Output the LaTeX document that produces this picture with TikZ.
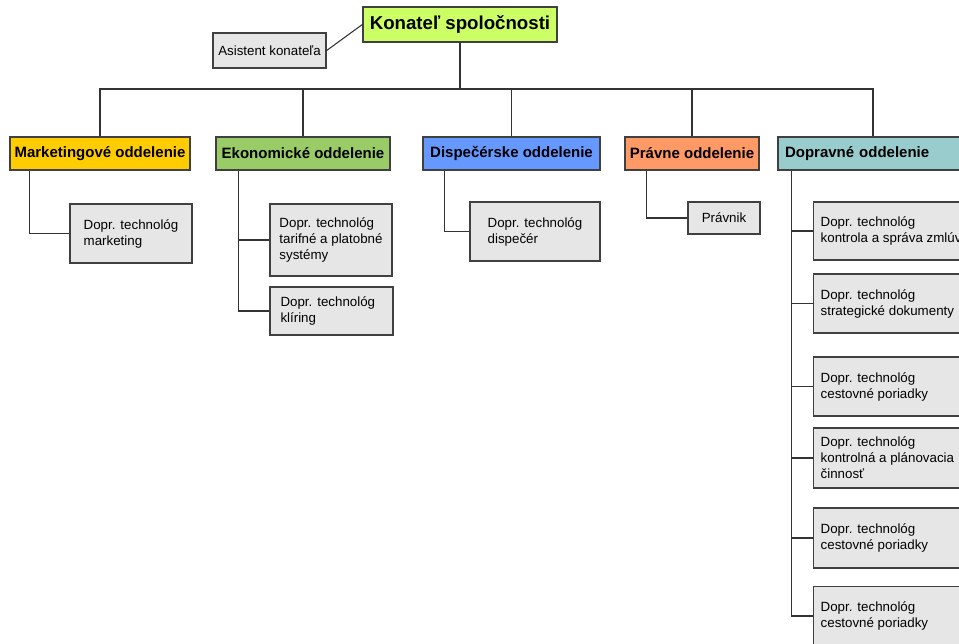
\documentclass[tikz,border=0pt]{standalone}
\usepackage{fontspec}
\setmainfont{Liberation Sans}
\usetikzlibrary{calc}
\newcommand{\pxu}{0.75pt}
\definecolor{boss}{HTML}{CCFF66}
\definecolor{mkcol}{HTML}{FFCC00}
\definecolor{ekcol}{HTML}{99CC66}
\definecolor{dscol}{HTML}{6699FF}
\definecolor{prcol}{HTML}{FF9966}
\definecolor{dpcol}{HTML}{99CCCC}
\definecolor{staff}{HTML}{E6E6E6}
\definecolor{edge}{HTML}{404040}
\tikzset{
  box/.style 2 args={draw=edge, line width=1pt, inner sep=3pt,
    minimum width=#1*\pxu, minimum height=#2*\pxu},
  dept/.style={font=\fontsize{11.25}{13}\selectfont\bfseries},
  person/.style={fill=staff, align=left, font=\fontsize{10}{12}\selectfont},
  wideperson/.style={person, align=flush left, anchor=west, text width=160*\pxu, inner xsep=7*\pxu},
  link/.style={draw=edge!80!black, line width=0.8pt}
}
\begin{document}
\begin{tikzpicture}[x=\pxu, y=-\pxu]
    \useasboundingbox (0,0) rectangle (959,643);
    \clip (0,0) rectangle (959,643);

    \node[box={194}{35}, fill=boss, font=\fontsize{14}{16}\selectfont\bfseries] (konatel) at (460,24.5) {Konateľ spoločnosti};
    \node[box={113}{35}, person] (asist) at (269.5,50.5) {Asistent konateľa};
    \draw[link] (asist.east) -- (konatel.west);

    % departments
    \node[box={180}{33}, dept, fill=mkcol] (mk) at (100,153.5) {Marketingové oddelenie};
    \node[box={174}{33}, dept, fill=ekcol] (ek) at (303,153.5) {Ekonomické oddelenie};
    \node[box={177}{33}, dept, fill=dscol] (ds) at (511.5,153.5) {Dispečérske oddelenie};
    \node[box={134}{33}, dept, fill=prcol] (pr) at (692,153.5) {Právne oddelenie};
    \node[box={190}{33}, dept, fill=dpcol, text width=176*\pxu, align=left, inner xsep=7*\pxu] (dp) at (873,153.5) {Dopravné oddelenie};

    \coordinate (bus) at (460,89);
    \draw[link] (konatel.south) -- (bus);
    \draw[link] (mk.north) |- (bus) -| (dp.north);
    \foreach \d in {ek,ds,pr}
        \draw[link] (\d.north) -- (\d.north |- bus);

    % staff
    \node[box={122}{59}, person] (mk1) at (131,233.5) {Dopr. technológ\\marketing};
    \node[box={122}{72}, person] (ek1) at (331,240) {Dopr. technológ\\tarifné a platobné\\systémy};
    \node[box={123}{48}, person, align=flush left, text width=102*\pxu] (ek2) at (331.5,311) {Dopr. technológ\\klíring};
    \node[box={130}{59}, person] (ds1) at (535,231.5) {Dopr. technológ\\dispečér};
    \node[box={72}{32}, person] (pr1) at (724,218) {Právnik};
    \node[box={154}{58}, wideperson] (dp1) at (813,231) {Dopr. technológ\\kontrola a správa zmlúv};
    \node[box={154}{59}, wideperson] (dp2) at (813,303.5) {Dopr. technológ\\strategické dokumenty};
    \node[box={154}{59}, wideperson] (dp3) at (813,386.5) {Dopr. technológ\\cestovné poriadky};
    \node[box={154}{60}, wideperson] (dp4) at (813,458) {Dopr. technológ\\kontrolná a plánovacia\\činnosť};
    \node[box={154}{60}, wideperson] (dp5) at (813,538) {Dopr. technológ\\cestovné poriadky};
    \node[box={154}{59}, wideperson] (dp6) at (813,616) {Dopr. technológ\\cestovné poriadky};

    \draw[link] ($(mk.south west)+(20,0)$) |- (mk1.west);
    \coordinate (ekv) at ($(ek.south west)+(23,0)$);
    \draw[link] (ekv) |- (ek2.west);
    \draw[link] (ek1.west) -- (ek1.west -| ekv);
    \draw[link] ($(ds.south west)+(22,0)$) |- (ds1.west);
    \draw[link] ($(pr.south west)+(22,0)$) |- (pr1.west);
    \coordinate (dpv) at ($(dp.south west)+(14,0)$);
    \draw[link] (dpv) |- (dp6.west);
    \foreach \i in {1,...,5}
        \draw[link] (dp\i.west) -- (dp\i.west -| dpv);
\end{tikzpicture}
\end{document}
